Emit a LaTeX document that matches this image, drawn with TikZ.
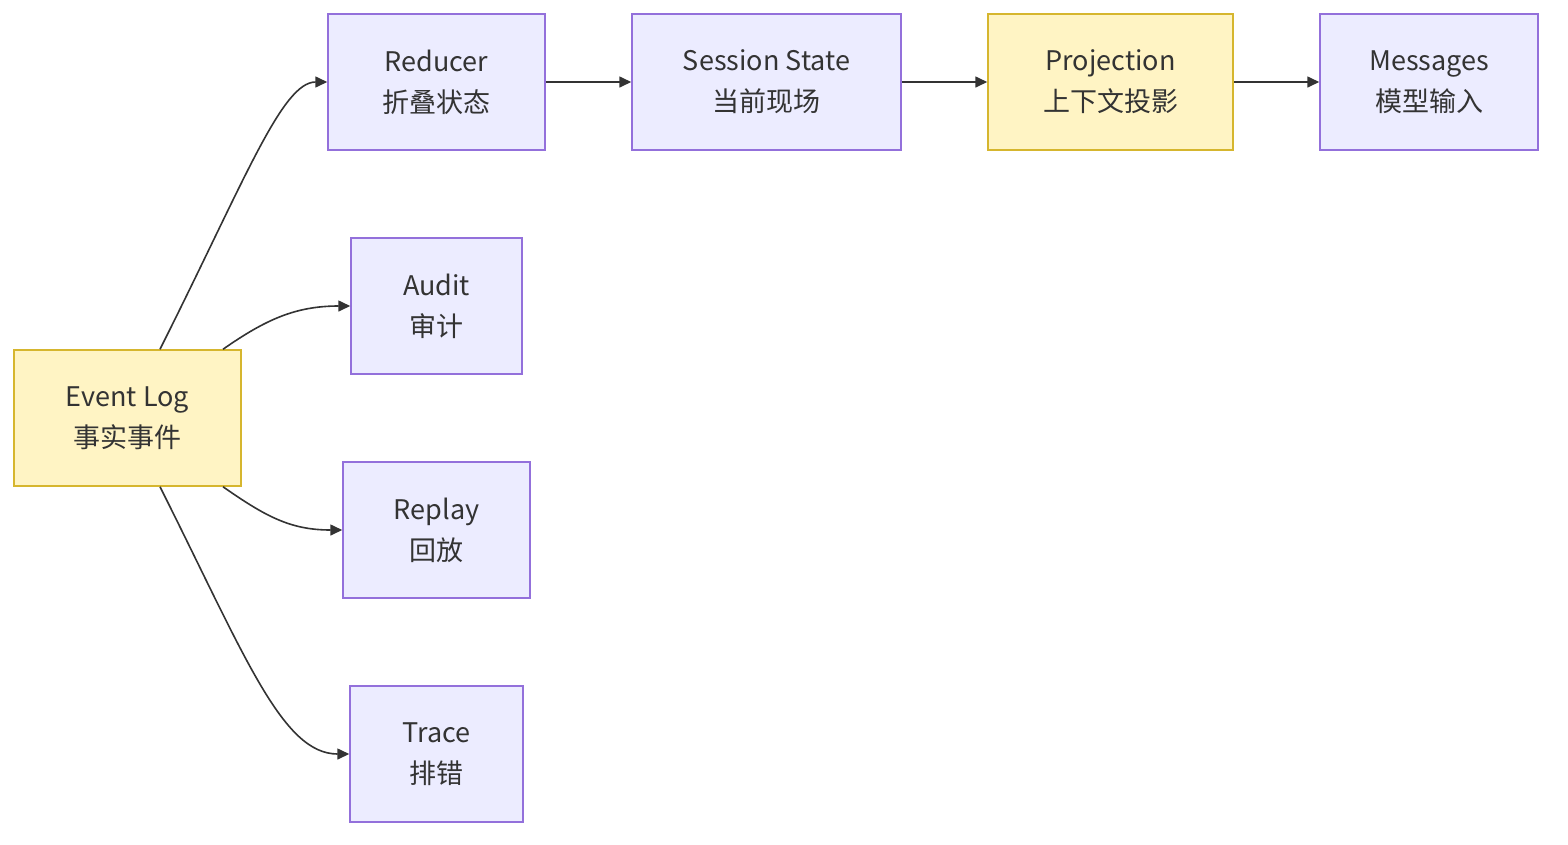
\documentclass[tikz,border=0pt]{standalone}
\usepackage{fontspec}
\setmainfont{Noto Sans CJK SC}
\usetikzlibrary{arrows.meta,calc}
\definecolor{pfill}{HTML}{ECECFF}
\definecolor{pline}{HTML}{9370DB}
\definecolor{yfill}{HTML}{FFF4C4}
\definecolor{yline}{HTML}{D6B62E}
\definecolor{ink}{HTML}{333333}
\begin{document}
\begin{tikzpicture}[x=1pt,y=-1pt,
  box/.style={draw=pline,fill=pfill,line width=1.5pt,minimum height=136pt,inner sep=0pt,align=center,text=ink,font=\fontsize{27}{41}\selectfont},
  ybox/.style={box,draw=yline,fill=yfill},
  conn/.style={draw=ink,line width=1.6pt,-{Triangle[length=12pt,width=11pt]}}]
\useasboundingbox (0,0) rectangle (1568,844);
\node[box,minimum width=217pt] (red) at (436.5,82) {Reducer\\折叠状态};
\node[box,minimum width=269pt] (ses) at (766.5,82) {Session State\\当前现场};
\node[ybox,minimum width=245pt] (proj) at (1110.5,82) {Projection\\上下文投影};
\node[box,minimum width=218pt] (msg) at (1429,82) {Messages\\模型输入};
\node[box,minimum width=171pt] (aud) at (436.5,306) {Audit\\审计};
\node[box,minimum width=187pt] (rep) at (436.5,530) {Replay\\回放};
\node[box,minimum width=173pt] (tra) at (436.5,754) {Trace\\排错};
\node[ybox,minimum width=227pt] (el) at (127.5,418) {Event Log\\事实事件};
\draw[conn] (red) -- (ses);
\draw[conn] (ses) -- (proj);
\draw[conn] (proj) -- (msg);
\draw[conn] ([xshift=32.5pt]el.north) .. controls (245,180) and (282,82) .. (red.west);
\draw[conn] ([xshift=95.5pt]el.north) .. controls (265,320) and (295,306) .. (aud.west);
\draw[conn] ([xshift=95.5pt]el.south) .. controls (265,516) and (290,530) .. (rep.west);
\draw[conn] ([xshift=32.5pt]el.south) .. controls (245,656) and (282,754) .. (tra.west);
\end{tikzpicture}
\end{document}
